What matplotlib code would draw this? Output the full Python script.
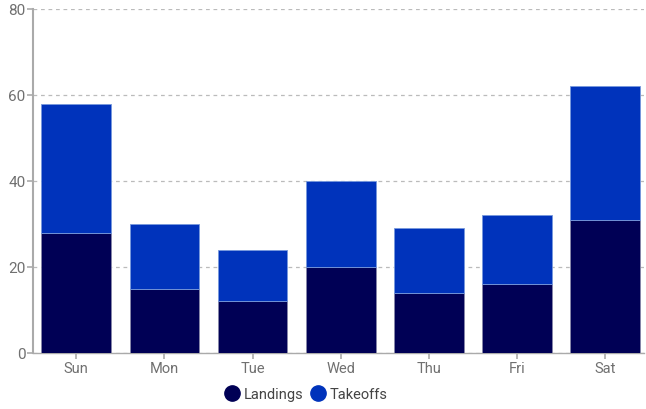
import matplotlib
matplotlib.use("Agg")
import matplotlib.pyplot as plt
from matplotlib.lines import Line2D

days = ["Sun", "Mon", "Tue", "Wed", "Thu", "Fri", "Sat"]
landings = [28, 15, 12, 20, 14, 16, 31]
takeoffs = [30, 15, 12, 20, 15, 16, 31]
yticks = [0, 20, 40, 60, 80]

c_land = "#000055"
c_take = "#0033BB"
gray = "#707070"

plt.rcParams['font.family'] = ['Roboto', 'DejaVu Sans']
fig = plt.figure(figsize=(6.46, 4.10), dpi=100)
ax = fig.add_axes([33/646, (410-354)/410, (644-33)/646, (354-10)/410])

x = list(range(len(days)))
ax.bar(x, landings, width=0.79, color=c_land, edgecolor="#8888aa", linewidth=0.6, zorder=3)
ax.bar(x, takeoffs, bottom=landings, width=0.79, color=c_take, edgecolor="#7799dd", linewidth=0.6, zorder=3)

ax.set_xlim(-0.49, 6.44)
ax.set_ylim(0, 80)
ax.set_yticks(yticks)
ax.set_xticks(x)
ax.set_xticklabels(days)
ax.grid(axis="y", color="#bbbbbb", linestyle=(0, (3, 3)), linewidth=0.9, zorder=0)
for s in ["top", "right"]:
    ax.spines[s].set_visible(False)
ax.spines["left"].set_color("#aaaaaa")
ax.spines["left"].set_linewidth(1.5)
ax.spines["bottom"].set_color("#aaaaaa")
ax.spines["bottom"].set_linewidth(1.0)
ax.tick_params(axis="both", colors="#aaaaaa", labelcolor=gray, labelsize=10.5, length=4, width=1.2)
ax.tick_params(axis="x", pad=1.5)
ax.tick_params(axis="y", pad=1.5, labelsize=11)

handles = [Line2D([], [], marker="o", linestyle="", markersize=11, color=c_land, label="Landings"),
           Line2D([], [], marker="o", linestyle="", markersize=11, color=c_take, label="Takeoffs")]
leg = fig.legend(handles=handles, loc="center", bbox_to_anchor=(306/646, 1 - 395/410), ncol=2,
                 frameon=False, fontsize=10.5, handletextpad=0.3, columnspacing=0.5, handlelength=1.0)
for t in leg.get_texts():
    t.set_color("#444444")

fig.savefig("out.png", dpi=100)
